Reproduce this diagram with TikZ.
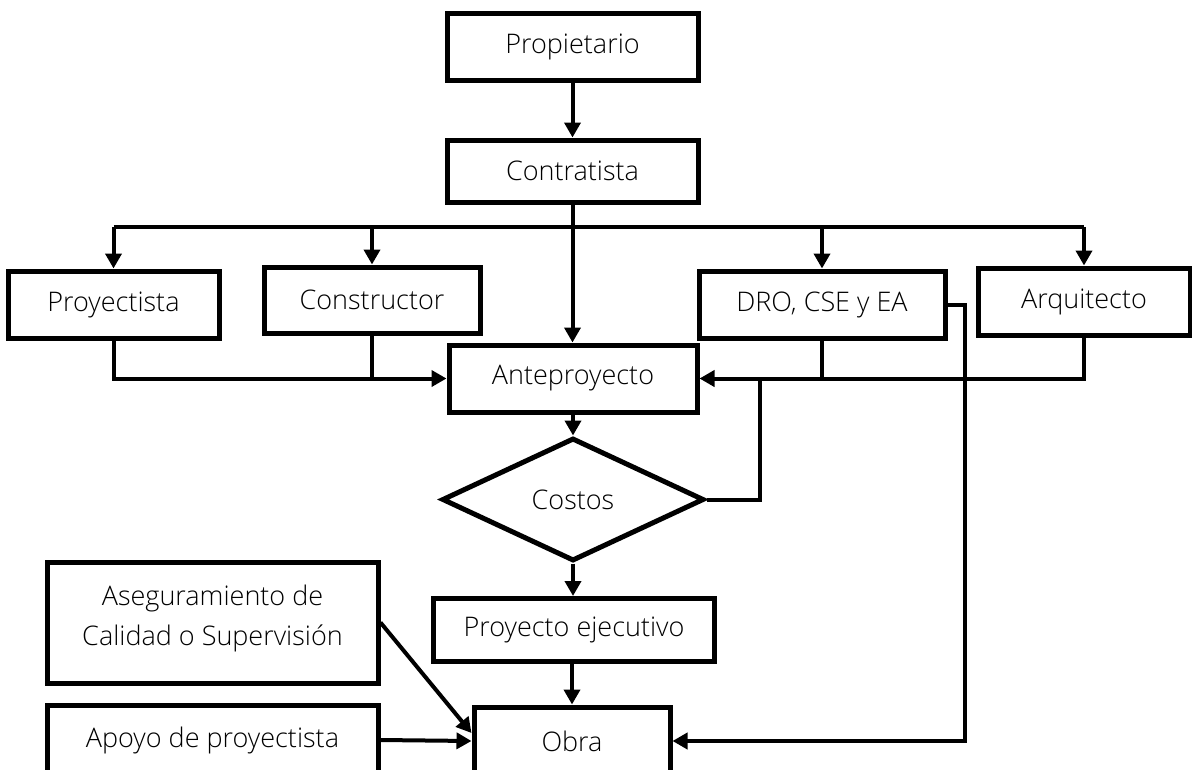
\documentclass[tikz,border=0pt]{standalone}
\usepackage{fontspec}
\setmainfont{Open Sans}[UprightFont={* Light}]
\usetikzlibrary{arrows.meta,shapes.geometric,calc}
\begin{document}
\begin{tikzpicture}[x=1pt,y=-1pt,
  box/.style={draw,line width=5pt,rectangle,inner sep=0pt,font=\fontsize{27}{34}\selectfont,fill=white},
  dia/.style={draw,line width=5pt,diamond,inner sep=0pt,font=\fontsize{27}{34}\selectfont},
  conn/.style={line width=4pt},
  arr/.style={line width=4pt,-{Triangle[length=15pt,width=16pt]}}]
\useasboundingbox (0,0) rectangle (1192,769);
\node[box,minimum width=251pt,minimum height=67pt] (prop) at (572.5,46.5) {Propietario};
\node[box,minimum width=251pt,minimum height=62pt] (contr) at (572.5,171) {Contratista};
\node[box,minimum width=211pt,minimum height=67pt] (proy) at (113.5,304.5) {Proyectista};
\node[box,minimum width=216pt,minimum height=66pt] (cons) at (372,300) {Constructor};
\node[box,minimum width=246pt,minimum height=67pt] (dro) at (822,304.5) {DRO, CSE y EA};
\node[box,minimum width=212pt,minimum height=67pt] (arq) at (1084,301.5) {Arquitecto};
\node[box,minimum width=248pt,minimum height=67pt] (ante) at (573,378.5) {Anteproyecto};
\node[dia,minimum width=262pt,minimum height=123pt,aspect=2.13] (cost) at (573,499.5) {Costos};
\node[box,minimum width=281pt,minimum height=63pt] (pe) at (574,630) {Proyecto ejecutivo};
\node[box,minimum width=196pt,minimum height=68pt] (obra) at (572,741) {Obra};
\node[box,minimum width=331pt,minimum height=121pt,align=center,font=\fontsize{27}{40}\selectfont,text depth=14pt] (aseg) at (212.5,622.5) {Aseguramiento de\\Calidad o Supervisión};
\node[box,minimum width=331pt,minimum height=70pt] (apoyo) at (212.5,740) {Apoyo de proyectista};
\coordinate (bus) at (0,227);
\coordinate (fb) at (760,378.5);
% arrows
\draw[arr] (prop.south) -- (contr.north);
\draw[arr] (contr.south) -- (contr.south |- ante.north);
\draw[conn] (proy.north |- bus) -- (arq.north |- bus);
\draw[arr] (proy.north |- bus) -- (proy.north);
\draw[arr] (cons.north |- bus) -- (cons.north);
\draw[arr] (dro.north |- bus) -- (dro.north);
\draw[arr] (arq.north |- bus) -- (arq.north);
\draw[arr] (proy.south) |- (ante.west);
\draw[conn] (cons.south) -- (cons.south |- ante.west);
\draw[arr] (arq.south) |- (ante.east);
\draw[conn] (dro.south) -- (dro.south |- ante.east);
\draw[arr] (ante.south) -- (cost.north);
\draw[conn] (cost.east) -| (fb);
\draw[arr] (cost.south) -- (cost.south |- pe.north);
\draw[arr] (obra.north |- pe.south) -- (obra.north);
\draw[arr] (dro.east) -- ++(17,0) |- (obra.east);
\draw[arr] (apoyo.east) -- (obra.west);
\draw[arr] (aseg.east) -- ([yshift=8pt]obra.west);
\end{tikzpicture}
\end{document}
